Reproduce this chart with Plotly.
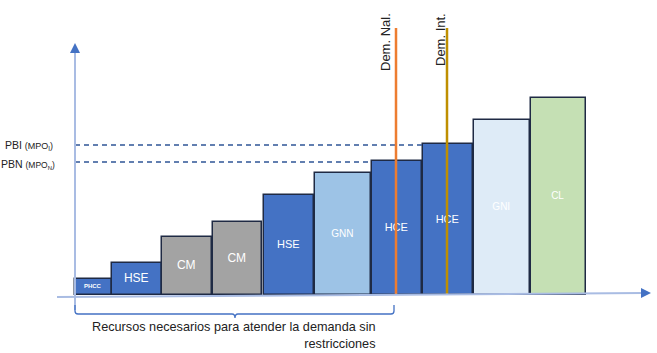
import plotly.graph_objects as go

# ---- data (units: arbitrary "resource" units) ----
labels = ["<b>PHCC</b>", "HSE", "CM", "CM", "HSE", "GNN", "HCE", "HCE", "GNI", "CL"]
lefts = [0, 37, 87, 138, 189, 240, 297, 348, 399, 456]
widths = [37, 50, 50, 49, 50, 56, 50, 50, 56, 55]
heights = [16, 32, 58, 73, 100, 122, 134, 151, 175, 197]
colors = ["#4472C4", "#4472C4", "#A3A3A3", "#A3A3A3", "#4472C4",
          "#9DC3E6", "#4472C4", "#4472C4", "#DEEBF7", "#C5E0B4"]
label_sizes = [6, 12, 12, 12, 11, 10, 11, 11, 10, 10]

pbi_level = 150   # PBI (MPO_I)
pbn_level = 133   # PBN (MPO_N)
pbi_end = 348
pbn_end = 297

dem_nal_x = 321
dem_int_x = 372
dem_top = 267

FONT = "Liberation Sans, Arial, sans-serif"

centers = [l + w / 2 for l, w in zip(lefts, widths)]

fig = go.Figure()

fig.add_trace(go.Bar(
    x=centers, y=heights, width=widths,
    marker=dict(color=colors, line=dict(color="#1F2A44", width=1.5)),
    text=labels, textposition="inside", insidetextanchor="middle",
    textangle=0, constraintext="none",
    textfont=dict(color="white", size=label_sizes, family=FONT),
    hoverinfo="skip",
))

# dashed reference levels
fig.add_trace(go.Scatter(x=[0, pbi_end], y=[pbi_level, pbi_level], mode="lines",
                         line=dict(color="#2F5597", width=1.5, dash="5px,4px"), hoverinfo="skip"))
fig.add_trace(go.Scatter(x=[0, pbn_end], y=[pbn_level, pbn_level], mode="lines",
                         line=dict(color="#2F5597", width=1.5, dash="5px,4px"), hoverinfo="skip"))

# demand lines
fig.add_trace(go.Scatter(x=[dem_nal_x, dem_nal_x], y=[0, dem_top], mode="lines",
                         line=dict(color="#ED7D31", width=2.5), hoverinfo="skip"))
fig.add_trace(go.Scatter(x=[dem_int_x, dem_int_x], y=[0, dem_top], mode="lines",
                         line=dict(color="#BF8F00", width=2.5), hoverinfo="skip"))

shapes = [
    # y axis
    dict(type="line", x0=0, x1=0, y0=-15, y1=244, line=dict(color="#A9BCE3", width=2)),
    dict(type="path", path="M 0 252 L -5 242 L 5 242 Z", fillcolor="#4472C4", line=dict(width=0)),
    # x axis
    dict(type="line", x0=-18, x1=568, y0=-2, y1=2, line=dict(color="#A9BCE3", width=2)),
    dict(type="path", path="M 576 2 L 566 -3 L 566 7 Z", fillcolor="#4472C4", line=dict(width=0)),
    # bracket
    dict(type="path",
         path="M 0 -10 L 0 -16 Q 0 -19 3 -19 L 157 -19 Q 160 -19 160 -23 Q 160 -19 163 -19 "
              "L 316 -19 Q 319 -19 319 -16 L 319 -10",
         line=dict(color="#4472C4", width=1.3)),
]

annotations = [
    dict(x=303, y=-40, xref="x", yref="y", xanchor="right", yanchor="middle", align="right",
         text="Recursos necesarios para atender la demanda sin<br>restricciones",
         showarrow=False, font=dict(size=12.7, color="#222222", family=FONT)),
    dict(x=-20, y=pbi_level, xref="x", yref="y", xanchor="right", yanchor="middle",
         text="PBI <span style='font-size:9px'>(MPO<sub>I</sub>)</span>",
         showarrow=False, font=dict(size=10.5, color="#222222", family=FONT)),
    dict(x=-18, y=pbn_level - 2, xref="x", yref="y", xanchor="right", yanchor="middle",
         text="PBN <span style='font-size:8.5px'>(MPO<sub>N</sub>)</span>",
         showarrow=False, font=dict(size=10.5, color="#222222", family=FONT)),
    dict(x=dem_nal_x - 11, y=253, xref="x", yref="y", xanchor="center", yanchor="middle",
         text="Dem. Nal.", textangle=-90, showarrow=False,
         font=dict(size=13, color="#222222", family=FONT)),
    dict(x=dem_int_x - 7, y=255, xref="x", yref="y", xanchor="center", yanchor="middle",
         text="Dem. Int.", textangle=-90, showarrow=False,
         font=dict(size=13, color="#222222", family=FONT)),
]

fig.update_layout(
    width=657, height=353, margin=dict(l=0, r=0, t=0, b=0),
    paper_bgcolor="white", plot_bgcolor="white", showlegend=False,
    xaxis=dict(range=[-75, 582], visible=False, fixedrange=True),
    yaxis=dict(range=[-58, 295], visible=False, fixedrange=True),
    shapes=shapes, annotations=annotations, bargap=0,
)

fig.write_html("out.html")
